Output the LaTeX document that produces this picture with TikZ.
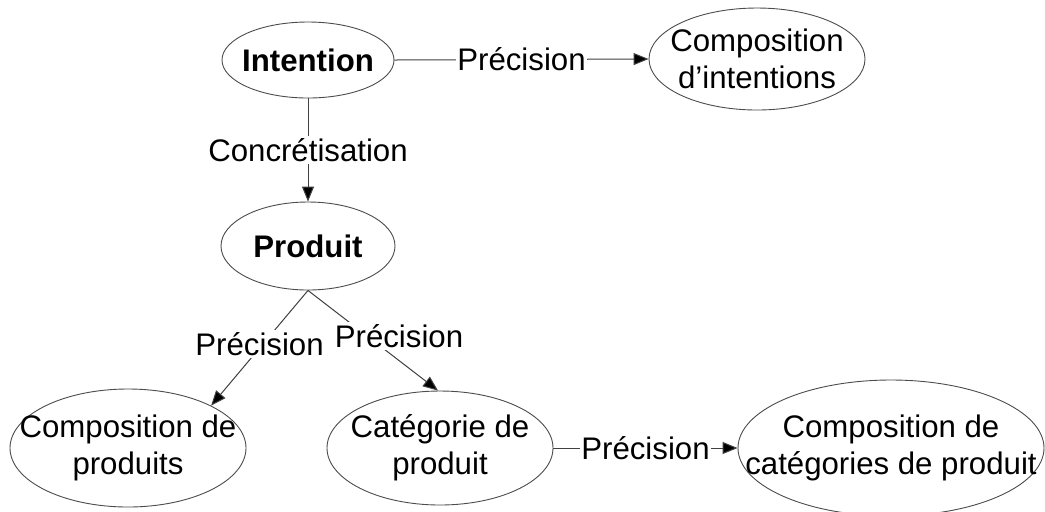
\documentclass[tikz,border=0pt]{standalone}
\usepackage{fontspec}
\setmainfont{Liberation Sans}
\usetikzlibrary{arrows.meta,shapes.geometric}
\tikzset{
  ell/.style={draw=black!70, line width=0.45pt, shape=ellipse, inner sep=0pt},
  txt/.style={font=\fontsize{15.6pt}{18.5pt}\selectfont, align=center, inner sep=0pt},
  conn/.style={draw=black!75, line width=0.5pt, -{Triangle[length=7.5pt,width=6pt,fill=black]}},
  lbl/.style={font=\fontsize{15.6pt}{18.5pt}\selectfont, fill=white, inner xsep=0.5pt, inner ysep=1pt, text=black}
}
\begin{document}
\begin{tikzpicture}[x=0.5pt,y=-0.5pt]
\useasboundingbox (0,0) rectangle (1045,511);
\clip (0,0) rectangle (1045,511);
\fill[white] (0,0) rectangle (1045,511);

\node[ell, minimum width=86pt, minimum height=38pt,
      label={[txt]center:\textbf{Intention}}] (int) at (308,60) {};
\node[ell, minimum width=108pt, minimum height=51pt,
      label={[txt]center:{Composition\\d’intentions}}] (ci) at (757,59) {};
\node[ell, minimum width=87pt, minimum height=44pt,
      label={[txt]center:\textbf{Produit}}] (prod) at (308,246) {};
\node[ell, minimum width=118pt, minimum height=59pt,
      label={[txt]center:{Composition de\\produits}}] (cp) at (128,448) {};
\node[ell, minimum width=113pt, minimum height=57pt,
      label={[txt]center:{Catégorie de\\produit}}] (cat) at (440,448) {};
\node[ell, minimum width=153pt, minimum height=68pt,
      label={[txt]center:{Composition de\\catégories de produit}}] (cc) at (891,448) {};

\draw[conn] (int.east) -- node[lbl]{Précision} (ci.west);
\draw[conn] (int.south) -- node[lbl]{Concrétisation} (prod.north);
\draw[conn] (prod.south) -- node[lbl, pos=0.5, yshift=2pt]{Précision} (cp.27);
\draw[conn] (prod.south) -- node[lbl, pos=0.6, xshift=6.5pt, yshift=7.3pt]{Précision} (cat.92);
\draw[conn] (cat.east) -- node[lbl]{Précision} (cc.west);
\end{tikzpicture}
\end{document}
